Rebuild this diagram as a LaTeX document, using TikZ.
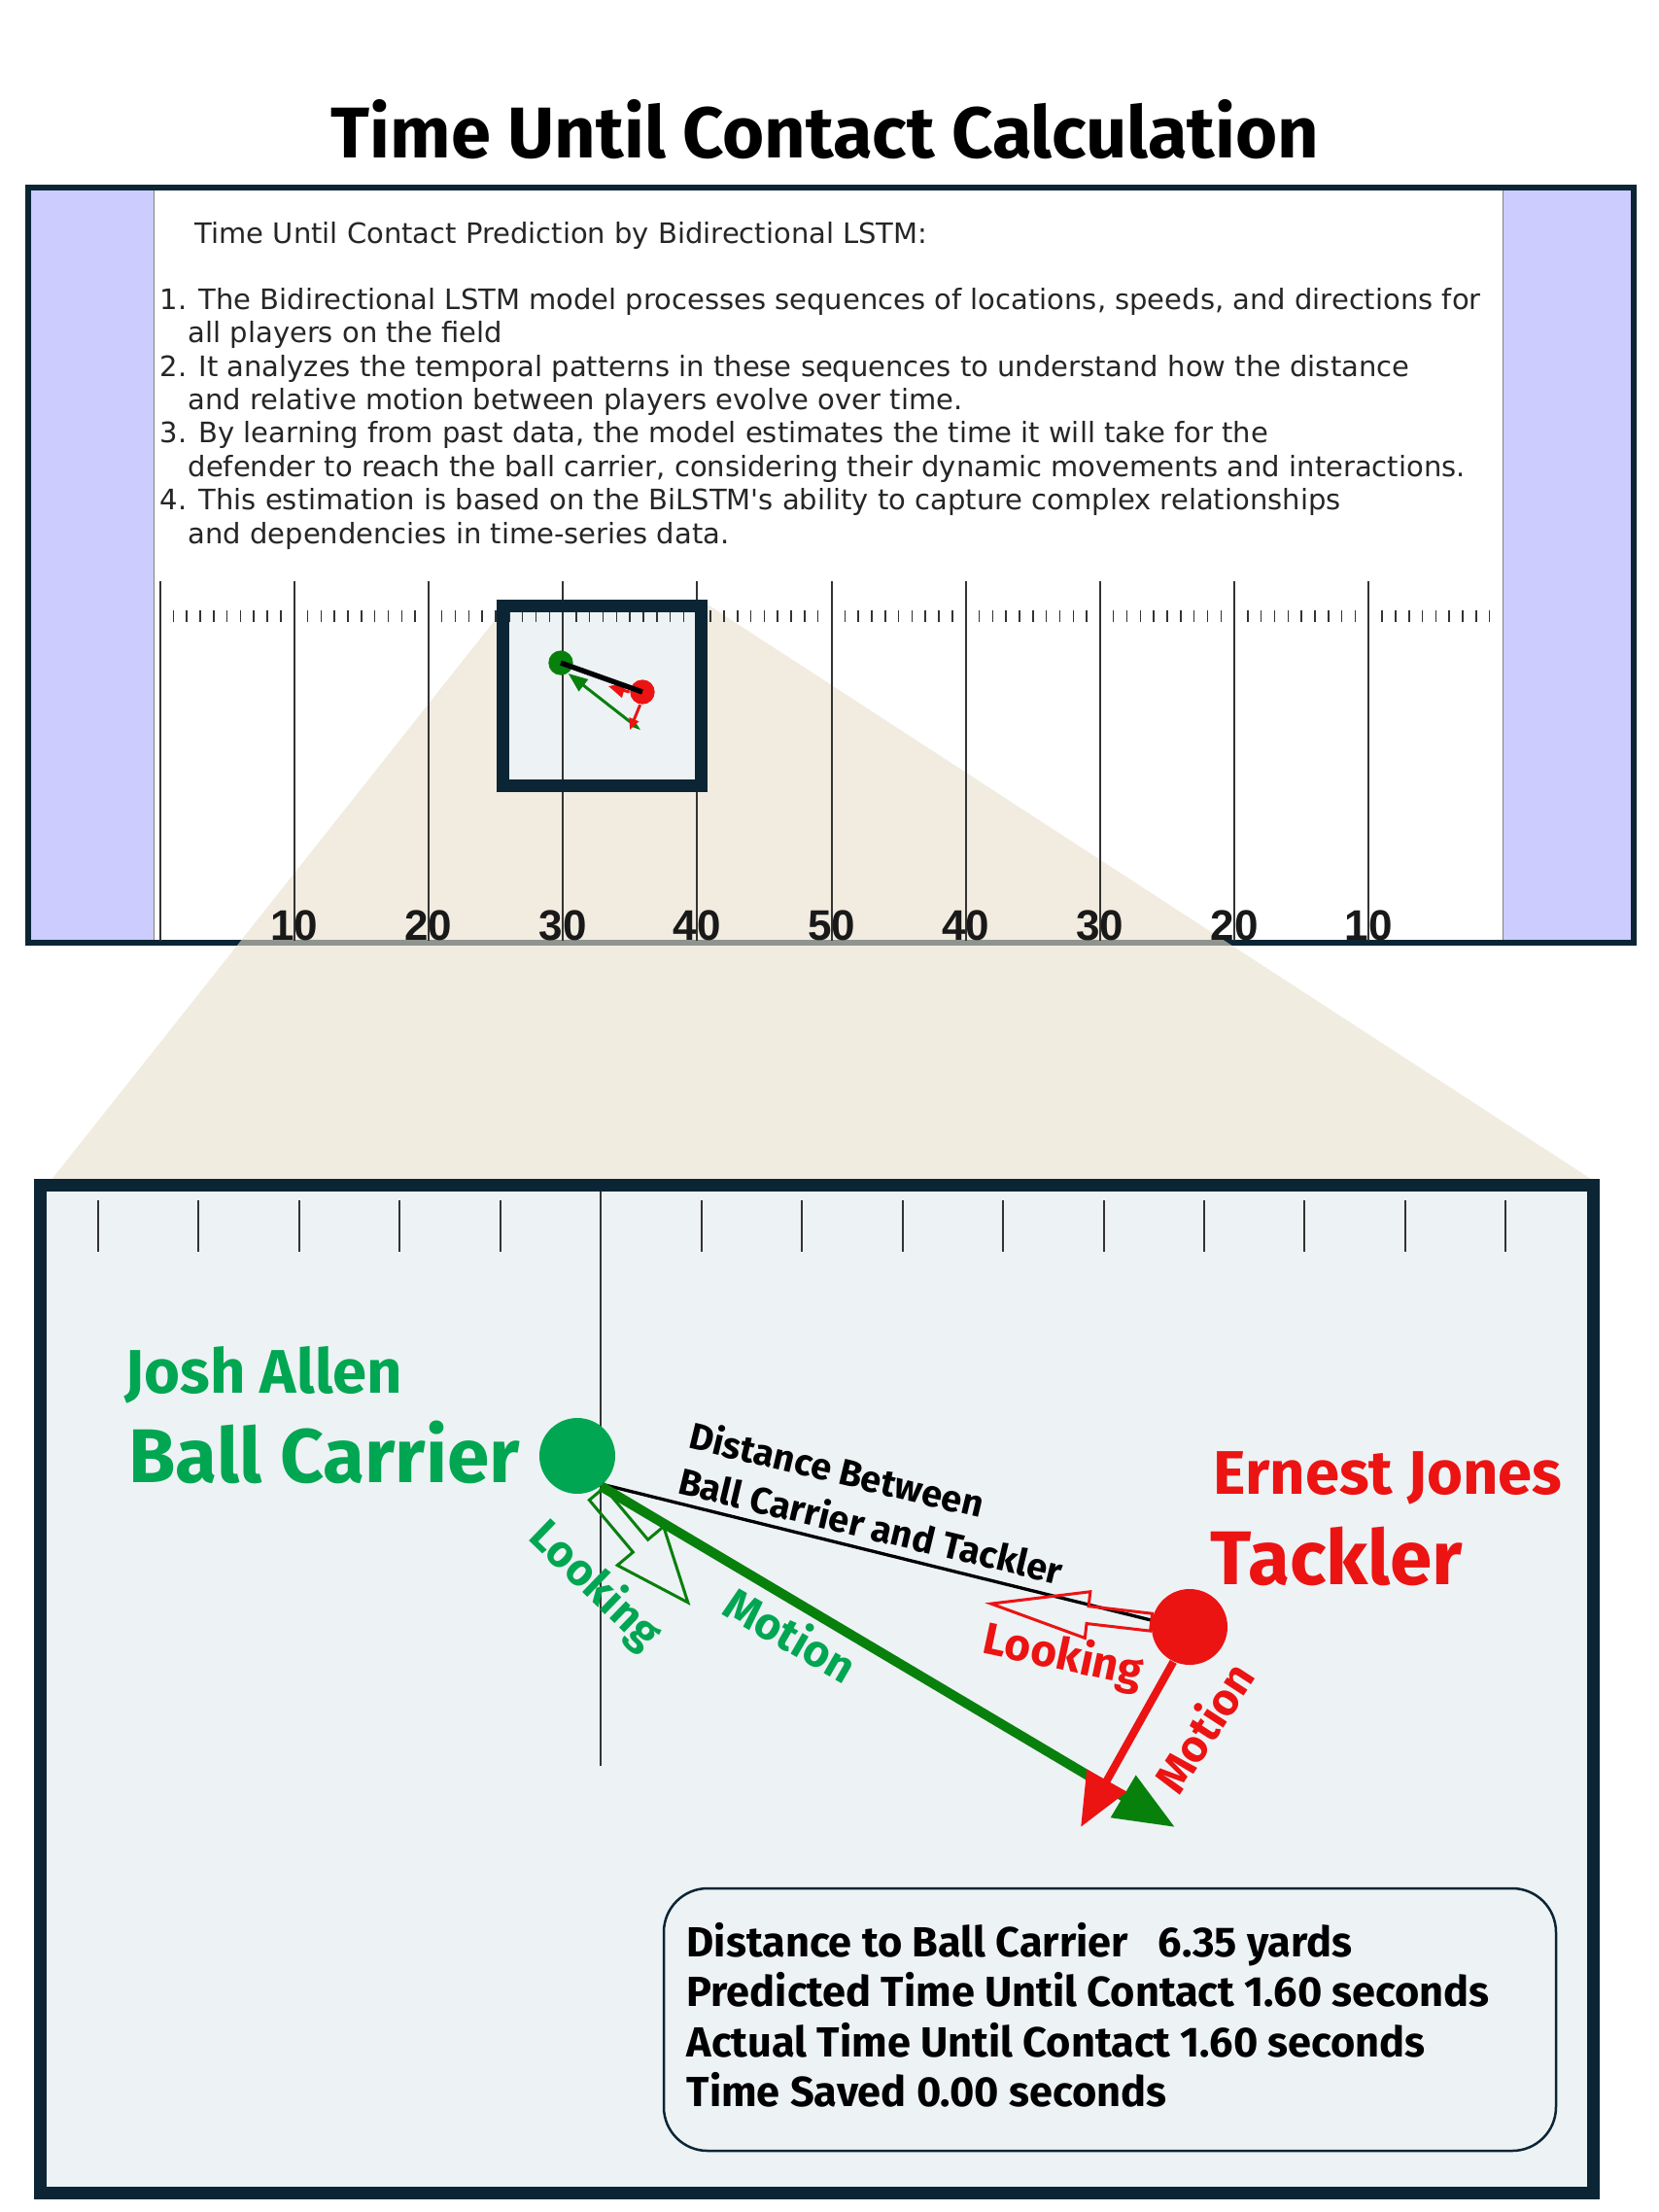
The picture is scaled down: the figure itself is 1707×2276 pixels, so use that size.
\documentclass[tikz,border=0pt]{standalone}
\usepackage{fontspec}
\setmainfont{Fira Sans}
\newfontfamily\dejavu{DejaVu Sans}
\newfontfamily\yardfont{Liberation Sans}
\usetikzlibrary{arrows.meta}
\definecolor{navy}{HTML}{0B2535}
\definecolor{endzone}{HTML}{CCCCFF}
\definecolor{panel}{HTML}{EDF2F5}
\definecolor{beige}{HTML}{E8DFCC}
\definecolor{carriergreen}{HTML}{00A651}
\definecolor{darkgreen}{HTML}{08800C}
\definecolor{tacklered}{HTML}{EC1313}
\definecolor{linegray}{HTML}{333333}

\begin{document}
\begin{tikzpicture}[x=0.3pt, y=-0.3pt,
  yardline/.style={draw=linegray, line width=0.6pt},
  hashtick/.style={draw=linegray, line width=0.45pt},
  yardnum/.style={font=\yardfont\bfseries\fontsize{13.2}{15}\selectfont, text=black!90, anchor=base, inner sep=0},
  lstmtext/.style={font=\dejavu\fontsize{8.7}{10.32}\selectfont, text=black!85, inner sep=0, align=left},
  player/.style={circle, inner sep=0, minimum size=23.4pt},
  minidot/.style={circle, inner sep=0, minimum size=7.6pt},
  namelabel/.style={font=\bfseries\fontsize{19}{22}\selectfont, anchor=base west, inner sep=0},
  rolelabel/.style={font=\bfseries\fontsize{23.5}{27}\selectfont, anchor=base west, inner sep=0},
  tag/.style={font=\bfseries\fontsize{13.8}{16}\selectfont, inner sep=0},
  lookline/.style={line width=0.9pt, line join=miter},
  infobox/.style={draw=navy, line width=0.75pt, rounded corners=13.5pt, minimum width=275.4pt, minimum height=81pt},
  infotext/.style={font=\bfseries\fontsize{13}{15}\selectfont, anchor=base west, inner sep=0}]

\useasboundingbox (0,0) rectangle (1707,2276);

% title
\node[font=\bfseries\fontsize{22.2}{26}\selectfont, anchor=base] (title) at (849,162) {Time Until Contact Calculation};

% field with end zones
\fill[endzone] (29,192) rectangle (158,970);
\fill[endzone] (1546,192) rectangle (1681,970);
\fill[white] (158,192) rectangle (1546,970);
\draw[gray, line width=0.3pt] (158,192) -- (158,970) (1546,192) -- (1546,970);

% model description
\node[lstmtext, anchor=base west] (lstmhead) at (200,250) {Time Until Contact Prediction by Bidirectional LSTM:};
\node[lstmtext, anchor=base west] (lstmlist) at (164,559) {1. The Bidirectional LSTM model processes sequences of locations, speeds, and directions for\\
  \hspace*{8.7pt}all players on the field\\
  2. It analyzes the temporal patterns in these sequences to understand how the distance\\
  \hspace*{8.7pt}and relative motion between players evolve over time.\\
  3. By learning from past data, the model estimates the time it will take for the\\
  \hspace*{8.7pt}defender to reach the ball carrier, considering their dynamic movements and interactions.\\
  4. This estimation is based on the BiLSTM's ability to capture complex relationships\\
  \hspace*{8.7pt}and dependencies in time-series data.};

\draw[navy, line width=1.8pt] (29,192.5) rectangle (1681,970);

% zoom cone
\fill[beige, fill opacity=0.6] (522,622) -- (728,622) -- (1640,1215) -- (52,1215) -- cycle;
\fill[panel] (511,617) rectangle (728,815);

% yard lines, hash marks, numbers
\foreach \yd in {0,10,...,90}
  \draw[yardline] (164.5+13.82*\yd,598) -- (164.5+13.82*\yd,968);
\foreach \tens in {0,10,...,90}
  \foreach \ones in {1,...,9}
    \draw[hashtick] ({164.5+13.82*(\tens+\ones)},628) -- ++(0,12);
\foreach \yd/\lbl in {10/10,20/20,30/30,40/40,50/50,60/40,70/30,80/20,90/10}
  \node[yardnum] (num\yd) at (164.5+13.82*\yd,967) {\lbl};

\draw[navy, line width=3.9pt] (517.5,623.5) rectangle (721.5,808.5);

% mini view
\node[minidot, fill=darkgreen] (minicarrier) at (577,682) {};
\node[minidot, fill=tacklered] (minitackler) at (661,712) {};
\draw[darkgreen, line width=0.9pt, {Triangle[length=6pt,width=4.5pt]}-{Stealth[length=3pt,width=2pt]}] (minicarrier.-55) -- (659,751);
\draw[tacklered, line width=0.9pt, -{Triangle[length=3.5pt,width=3pt]}] (minitackler.-100) -- (648,751);
\draw[tacklered, line width=0.9pt, -{Triangle[length=5pt,width=4.5pt]}] (minitackler.west) -- (626,706);
\draw[black, line width=1.6pt] (minicarrier.center) -- (minitackler.center);

% zoomed view
\draw[navy, fill=panel, line width=3.9pt] (41.5,1219.5) rectangle (1639.5,2256.5);
\foreach \k in {0,1,2,3,4,6,7,8,9,10,11,12,13,14}
  \draw[hashtick, line width=0.6pt] (101+103.45*\k,1235) -- ++(0,53);
\draw[yardline] (618,1226) -- (618,1817);

\node[player, fill=carriergreen] (carrier) at (594,1498) {};
\node[player, fill=tacklered] (tackler) at (1224,1674) {};
\coordinate (carrierend) at (1209,1880);
\coordinate (tacklerend) at (1112,1880);
\coordinate (carrierlook) at (614,1537);

\draw[black, line width=1pt] (carrier.-48) -- (tackler.170);
\draw[darkgreen, line width=3pt, -{Triangle[length=18.6pt,width=14.4pt]}] (carrier.-52) -- (carrierend);
\draw[tacklered, line width=2.4pt, -{Triangle[length=16.5pt,width=13.5pt]}] (tackler.-115) -- (tacklerend);
\draw[lookline, draw=darkgreen, shift={(carrierlook)}, rotate=-50]
  (0,-10) -- (70,-10) -- (70,-31) -- (146,0) -- (70,31) -- (70,10) -- (0,10) -- cycle;
\draw[lookline, draw=tacklered, shift={(tackler.173)}, rotate=173.4]
  (0,-9) -- (66,-9) -- (66,-24) -- (166,0) -- (66,24) -- (66,9) -- (0,9) -- cycle;

\node[namelabel, text=carriergreen] (carriername) at (128,1433) {Josh Allen};
\node[rolelabel, text=carriergreen] (carrierrole) at (132,1525) {Ball Carrier};
\node[namelabel, text=tacklered] (tacklername) at (1248,1537) {Ernest Jones};
\node[rolelabel, text=tacklered] (tacklerrole) at (1245,1630) {Tackler};

\node[font=\bfseries\fontsize{11.4}{14.4}\selectfont, align=left, anchor=north west, rotate=-13.5, inner sep=0] (gaplabel) at (714,1459) {Distance Between\\Ball Carrier and Tackler};
\node[tag, text=carriergreen, rotate=-44] (carrierlooktag) at (612,1632) {Looking};
\node[tag, text=carriergreen, rotate=-30] (carriermovetag) at (814,1681) {Motion};
\node[tag, text=tacklered, rotate=-12] (tacklerlooktag) at (1094,1705) {Looking};
\node[tag, text=tacklered, rotate=57] (tacklermovetag) at (1238,1777) {Motion};

% summary
\node[infobox] (infobox) at (1142,2078) {};
\foreach \txt [count=\i from 0] in {Distance to Ball Carrier~~~6.35 yards, Predicted Time Until Contact 1.60 seconds, Actual Time Until Contact 1.60 seconds, Time Saved 0.00 seconds}
  \node[infotext] (info\i) at (706,2013+51.5*\i) {\txt};
\end{tikzpicture}
\end{document}
